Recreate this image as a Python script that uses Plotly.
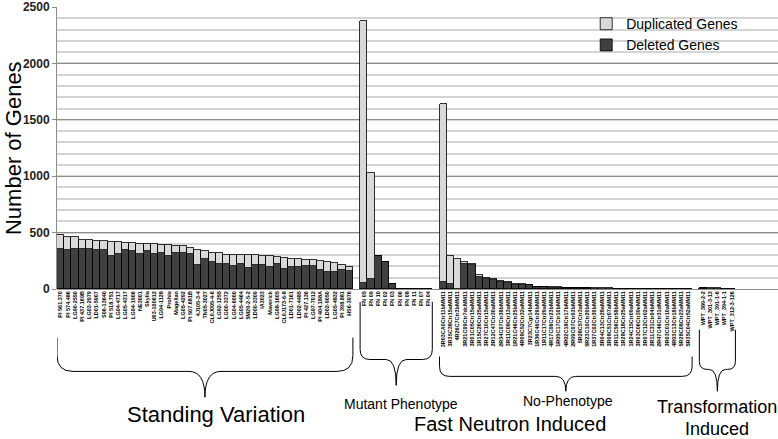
import plotly.graph_objects as go

# ---------------- data ----------------
standing_names = ["PI 561.370", "PI 574.486", "LG90-2550", "PI 437.169B", "LG03-2979", "LD01-5907",
                  "S06-13640", "PI 518.751", "LG04-4717", "LG05-4317", "LG94-1906", "NE3001", "Skylla",
                  "U03-100612", "LG94-1128", "Prohio", "Magellan", "LG05-4292", "PI 507.681B", "4J105-3-4",
                  "TN05-3027", "CL0J095-4-6", "LG92-1255", "LG00-3372", "LG04-6000", "LG05-4464",
                  "5M20-2-5-2", "LD00-3309", "IA3023", "Maverick", "LG98-1605", "CL0J173-6-8", "LD01-7161",
                  "LD02-4485", "PI 427.136", "LG97-7012", "PI 404.188A", "LD02-9050", "LG05-4832",
                  "PI 398.881", "HS6-3976"]
standing_del = [352, 349, 358, 352, 352, 343, 343, 290, 308, 349, 334, 308, 337, 308, 323, 293, 323, 323,
                308, 214, 270, 240, 220, 220, 208, 220, 182, 214, 214, 191, 226, 173, 197, 191, 202, 202,
                167, 150, 150, 167, 156]
standing_dup = [123, 111, 100, 85, 82, 82, 79, 129, 108, 62, 74, 94, 62, 88, 67, 94, 61, 61, 59, 129,
                65, 83, 97, 85, 97, 85, 123, 85, 76, 99, 59, 106, 73, 79, 59, 53, 79, 90, 79, 47, 41]

mutant_names = ["FN 05", "FN 09", "FN 10", "FN 02", "FN 03", "FN 06", "FN 08", "FN 11", "FN 07", "FN 04"]
mutant_del = [50, 88, 290, 235, 41, 4, 4, 3, 1, 0]
mutant_dup = [2327, 939, 0, 0, 0, 0, 0, 0, 0, 0]

nopheno_names = ["3R03CA0Ctr11bMM11", "3R35C38Ctr15aMM11", "4R26C7Ctr3bMM11", "3R21C09Ctr7dcMM11",
                 "3R01C05Ctr15aMM11", "1R15C26Ctr25aMM11", "3R27C10Ctr15aMM11", "2R12C47Ctr30aMM11",
                 "2R34C07Ctr38bMM11", "3R11C08Ctr13aMM11", "1R21C46Ctr25bMM11", "4R08C52Ctr32aMM11",
                 "3R23C7Cgr14bMM11", "1R36C46Ctr29bMM11", "1R11C17Ctr29aMM11", "4R17C06Ctr23bMM11",
                 "1R05C17Ctr10bMM11", "4R02C18Ctr17bMM11", "2R09C07Ctr03bMM11", "5R28C57Ctr3aMM11",
                 "5R23C10Ctr20bMM11", "1R37C02Ctr30bMM11", "3R04C13Ctr28aMM11", "3R08C51Ctr07aMM11",
                 "2R11C56Ctr58bMM11", "1R28C18Ctr25aMM11", "1R24C15Ctr09aMM11", "3R03C06Ctr39eMM11",
                 "3R07C12Ctr02aMM11", "2R11C31Ctr04bMM11", "2R47C46Ctr31dMM11", "3R03C01Ctr10aMM11",
                 "4R03C13Ctr18bMM11", "5R28C08Ctr23aMM11", "5R35C04Ctr52aMM11"]
nopheno_del = [64, 41, 0, 226, 211, 108, 90, 79, 66, 53, 32, 38, 35, 18, 17, 12, 11, 6, 6, 5, 5, 4, 3,
               2, 2, 2, 2, 1, 1, 1, 1, 0, 0, 0, 0]
nopheno_dup = [1579, 249, 265, 12, 9, 15, 5, 6, 4, 6, 12, 3, 3, 4, 3, 4, 4, 4, 3, 3, 3, 2, 2, 3, 2, 1,
               1, 1, 1, 1, 0, 1, 1, 0, 0]

wpt_names = ["WPT_389-2-2", "WPT_301-3-13", "WPT_391-1-6", "WPT_394-1-1", "WPT_312-3-126"]
wpt_del = [5, 4, 4, 0, 0]
wpt_dup = [1, 1, 1, 0, 0]

y_ticks = [0, 500, 1000, 1500, 2000, 2500]

groups = [
    (standing_names, standing_del, standing_dup),
    (mutant_names, mutant_del, mutant_dup),
    (nopheno_names, nopheno_del, nopheno_dup),
    (wpt_names, wpt_del, wpt_dup),
]

# ---------------- build positions (one empty slot between groups) ----------------
xs, names, dels, dups, spans = [], [], [], [], []
pos = 0
for nm, dl, dp in groups:
    start = pos
    for n, d, u in zip(nm, dl, dp):
        xs.append(pos); names.append(n); dels.append(d); dups.append(u)
        pos += 1
    spans.append((start - 0.5, pos - 0.5))
    pos += 1

FONT = "Liberation Sans, Arial, sans-serif"

fig = go.Figure()
fig.add_trace(go.Bar(x=xs, y=dels, name="Deleted Genes", width=1,
                     marker=dict(color="#404040", line=dict(color="black", width=0.8))))
fig.add_trace(go.Bar(x=xs, y=dups, name="Duplicated Genes", width=1,
                     marker=dict(color="#d9d9d9", line=dict(color="black", width=0.8))))

# ---------------- braces ----------------
PX_X = 721 / 99.9   # px per x unit
PX_Y = 284.0        # px per paper unit


def py(v):
    return (289 - v) / PX_Y


def brace(x0, x1, xc, yt, ym, yb, R=12):
    rx = R / PX_X
    ry = R / PX_Y
    ytp, ymp, ybp = py(yt), py(ym), py(yb)
    p = (f"M {x0},{ytp} L {x0},{ymp + ry} Q {x0},{ymp} {x0 + rx},{ymp} "
         f"L {xc - rx},{ymp} Q {xc},{ymp} {xc},{ybp} "
         f"Q {xc},{ymp} {xc + rx},{ymp} L {x1 - rx},{ymp} Q {x1},{ymp} {x1},{ymp + ry} L {x1},{ytp}")
    return dict(type="path", path=p, xref="x", yref="paper",
                line=dict(color="black", width=1))


(s0, s1), (m0, m1), (n0, n1), (t0, t1) = spans
shapes = [
    brace(s0, s1, (s0 + s1) / 2, 338, 372, 398, R=16),
    brace(m0, m1, (m0 + m1) / 2, 302, 360, 386, R=10),
    brace(n0, n1, (n0 + n1) / 2, 357, 377, 392, R=10),
    brace(t0, t1, (t0 + t1) / 2, 330, 370, 392, R=8),
]

annotations = [
    dict(text="Standing Variation", x=(s0 + s1) / 2 + 1.5, y=py(415), size=22),
    dict(text="Mutant Phenotype", x=(m0 + m1) / 2 + 0.7, y=py(405), size=14),
    dict(text="No-Phenotype", x=(n0 + n1) / 2 + 0.3, y=py(402), size=14),
    dict(text="Fast Neutron Induced", x=62.3, y=py(425), size=20),
    dict(text="Transformation", x=(t0 + t1) / 2, y=py(408), size=18),
    dict(text="Induced", x=(t0 + t1) / 2, y=py(430), size=18),
]
ann = []
for a in annotations:
    ann.append(dict(text=a["text"], x=a["x"], y=a["y"], xref="x", yref="paper",
                    showarrow=False, xanchor="center", yanchor="middle",
                    font=dict(family=FONT, size=a["size"], color="black")))
ann.append(dict(text="Number of Genes", x=-0.061, y=0.5, xref="paper", yref="paper",
                showarrow=False, textangle=-90, xanchor="center", yanchor="middle",
                font=dict(family=FONT, size=22, color="black")))

fig.update_layout(
    width=778, height=439,
    margin=dict(l=57, r=0, t=5, b=150),
    barmode="stack", bargap=0,
    plot_bgcolor="white", paper_bgcolor="white",
    showlegend=True,
    legend=dict(x=0.734, y=0.996, xanchor="left", yanchor="top",
                traceorder="reversed", bgcolor="rgba(0,0,0,0)",
                font=dict(family=FONT, size=14, color="black"), tracegroupgap=0),
    xaxis=dict(range=[-0.5, 99.4], tickmode="array", tickvals=xs, ticktext=names,
               tickangle=-90, tickfont=dict(family=FONT, size=5.5, color="black", weight="bold"),
               showgrid=False, zeroline=False, showline=False, ticks=""),
    yaxis=dict(range=[0, 2500], tickmode="array", tickvals=y_ticks,
               tickfont=dict(family=FONT, size=12, color="#222", weight="bold"),
               ticklabeloverflow="allow",
               showgrid=True, gridcolor="#8c8c8c", gridwidth=1,
               minor=dict(dtick=100, showgrid=True, gridcolor="#d4d4d4", gridwidth=2),
               zeroline=True, zerolinecolor="#8c8c8c", zerolinewidth=1,
               showline=True, linecolor="#8c8c8c", linewidth=1,
               ticks="outside", ticklen=4, tickcolor="#8c8c8c"),
    shapes=shapes,
    annotations=ann,
)

fig.write_html("out.html", config={"displayModeBar": False},
               post_script="document.body.style.margin='0px';document.body.style.overflow='hidden';")
